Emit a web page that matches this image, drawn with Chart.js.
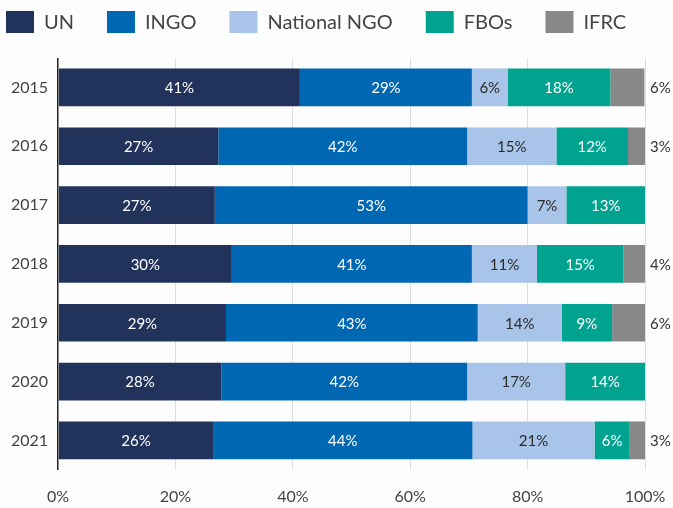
<!DOCTYPE html>
<html>
<head>
<meta charset="utf-8">
<script src="https://cdn.jsdelivr.net/npm/chart.js@4/dist/chart.umd.min.js"></script>
<style>
  html, body { margin: 0; padding: 0; background: #fdfdfd; }
  #wrap { width: 673px; height: 508px; }
</style>
</head>
<body>
<div id="wrap"><canvas id="chart"></canvas></div>
<script>
// years on the y axis
var years = ['2015', '2016', '2017', '2018', '2019', '2020', '2021'];

// share of funding per organisation type (%)
var un          = [41.2, 27.3, 26.7, 29.6, 28.6, 27.8, 26.4];
var ingo        = [29.3, 42.4, 53.3, 40.9, 42.9, 41.9, 44.2];
var nationalNgo = [6.1, 15.2, 6.6, 11.1, 14.3, 16.7, 20.8];
var fbos        = [17.5, 12.2, 13.4, 14.7, 8.6, 13.6, 6.0];
var ifrc        = [5.8, 2.9, 0, 3.7, 5.6, 0, 2.7];

var xTicks = [0, 20, 40, 60, 80, 100];

var FONT = 'Lato, "Open Sans", sans-serif';

// draws the % labels on (and after) the bars
var barLabels = {
    id: 'barLabels',
    afterDatasetsDraw: function (chart) {
        var ctx = chart.ctx;
        ctx.save();
        ctx.font = '15px ' + FONT;
        ctx.textBaseline = 'middle';
        chart.data.datasets.forEach(function (ds, i) {
            var meta = chart.getDatasetMeta(i);
            meta.data.forEach(function (bar, j) {
                var v = ds.data[j];
                if (!v) return;
                var txt = Math.round(v) + '%';
                if (ds.outside) {
                    ctx.fillStyle = '#333333';
                    ctx.textAlign = 'left';
                    ctx.fillText(txt, chart.chartArea.right + 5, bar.y + 1);
                } else {
                    ctx.fillStyle = ds.labelColor;
                    ctx.textAlign = 'center';
                    ctx.fillText(txt, (bar.x + bar.base) / 2, bar.y + 1);
                }
            });
        });
        ctx.restore();
    }
};

// one-row legend along the top, left aligned
var topLegend = {
    id: 'topLegend',
    afterDraw: function (chart) {
        var ctx = chart.ctx;
        var x = 6, y = 11;
        ctx.save();
        ctx.font = '20px ' + FONT;
        ctx.textBaseline = 'middle';
        ctx.textAlign = 'left';
        chart.data.datasets.forEach(function (ds) {
            ctx.fillStyle = ds.backgroundColor;
            ctx.fillRect(x, y, 28, 22);
            ctx.fillStyle = '#444444';
            ctx.fillText(ds.label, x + 38, y + 12);
            x += 38 + ctx.measureText(ds.label).width + 33;
        });
        ctx.restore();
    }
};

var ctx = document.getElementById('chart');

new Chart(ctx, {
    type: 'bar',
    data: {
        labels: years,
        datasets: [
            { label: 'UN', data: un, backgroundColor: '#21335b', labelColor: '#ffffff' },
            { label: 'INGO', data: ingo, backgroundColor: '#0068b3', labelColor: '#ffffff' },
            { label: 'National NGO', data: nationalNgo, backgroundColor: '#a8c4e8', labelColor: '#2b2b2b' },
            { label: 'FBOs', data: fbos, backgroundColor: '#00a38f', labelColor: '#ffffff' },
            { label: 'IFRC', data: ifrc, backgroundColor: '#888888', outside: true }
        ]
    },
    options: {
        indexAxis: 'y',
        responsive: true,
        maintainAspectRatio: false,
        animation: false,
        layout: { padding: { left: 1, right: 28, top: 58, bottom: 2 } },
        datasets: {
            bar: { barPercentage: 0.64, categoryPercentage: 1, borderWidth: 0 }
        },
        plugins: {
            legend: { display: false },
            tooltip: { enabled: false }
        },
        scales: {
            x: {
                stacked: true,
                min: 0,
                max: 100,
                afterBuildTicks: function (axis) {
                    axis.ticks = xTicks.map(function (v) { return { value: v }; });
                },
                ticks: {
                    color: '#444444',
                    font: { family: FONT, size: 16 },
                    padding: 0,
                    callback: function (v) { return v + '%'; }
                },
                grid: {
                    color: function (c) { return c.tick && c.tick.value === 0 ? '#222222' : '#dddddd'; },
                    lineWidth: function (c) { return c.tick && c.tick.value === 0 ? 1.5 : 1; },
                    drawTicks: true,
                    tickLength: 17,
                    tickColor: 'rgba(0,0,0,0)'
                },
                border: { display: false }
            },
            y: {
                stacked: true,
                ticks: {
                    color: '#444444',
                    font: { family: FONT, size: 16 },
                    padding: 10
                },
                grid: { display: false, drawTicks: false },
                border: { display: false }
            }
        }
    },
    plugins: [barLabels, topLegend]
});
</script>
</body>
</html>
